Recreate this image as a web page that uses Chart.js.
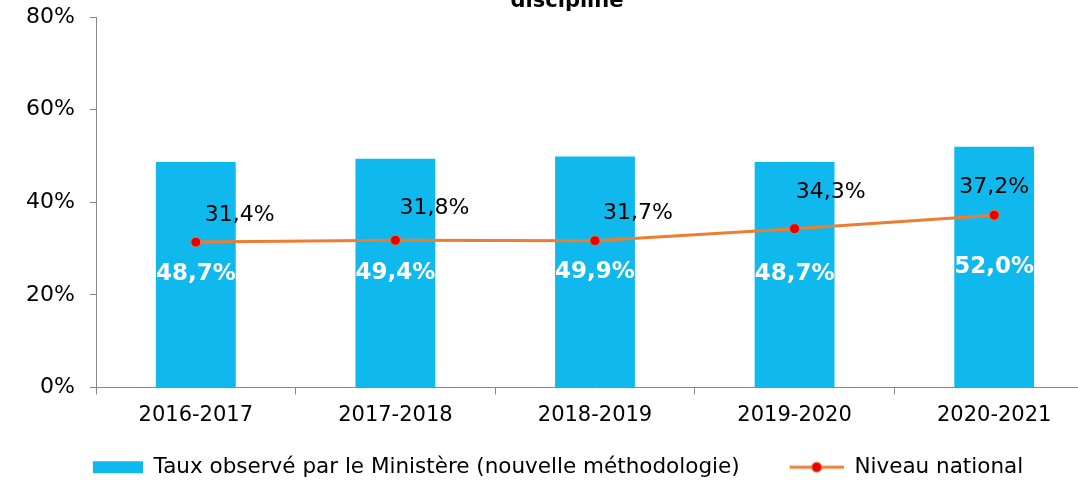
<!DOCTYPE html>
<html>
<head>
<meta charset="utf-8">
<script src="https://cdn.jsdelivr.net/npm/chart.js@4/dist/chart.umd.min.js"></script>
<style>
    html, body { margin: 0; padding: 0; background: #fff; overflow: hidden; }
    #wrap { width: 1100px; height: 480px; }
</style>
</head>
<body>
<div id="wrap"><canvas id="chart1"></canvas></div>
<script>
const categories = ['2016-2017', '2017-2018', '2018-2019', '2019-2020', '2020-2021'];
const ministereValues = [48.7, 49.4, 49.9, 48.7, 52.0];
const nationalValues = [31.4, 31.8, 31.7, 34.3, 37.2];
const yTicks = [0, 20, 40, 60, 80];
const seriesNames = ['Taux observé par le Ministère (nouvelle méthodologie)', 'Niveau national'];
const titleText = 'discipline';

// decalage des etiquettes de la courbe (px)
const lineLabelDx = [44, 39, 43, 36, 0];
const lineLabelDy = [-27, -32, -27, -36, -28];

const barColor = '#0FB9EE';
const lineColor = '#ED7D31';
const dotColor = '#E60000';
const FONT = 'DejaVu Sans';

function fmt(v) {
    return v.toFixed(1).replace('.', ',') + '%';
}

// petites images pour la legende (70px de large, marque a droite)
function makeBarIcon() {
    const c = document.createElement('canvas');
    c.width = 70; c.height = 14;
    const g = c.getContext('2d');
    g.fillStyle = barColor;
    g.fillRect(20, 1, 52, 12);
    return c;
}
function makeLineIcon() {
    const c = document.createElement('canvas');
    c.width = 70; c.height = 14;
    const g = c.getContext('2d');
    g.strokeStyle = lineColor;
    g.lineWidth = 3;
    g.beginPath(); g.moveTo(16, 7); g.lineTo(70, 7); g.stroke();
    g.beginPath(); g.arc(43, 7, 5, 0, Math.PI * 2);
    g.fillStyle = dotColor; g.fill();
    g.lineWidth = 1; g.strokeStyle = lineColor; g.stroke();
    return c;
}
const barIcon = makeBarIcon();
const lineIcon = makeLineIcon();

const labelsPlugin = {
    id: 'valueLabels',
    afterDatasetsDraw(chart) {
        const ctx = chart.ctx;
        ctx.save();
        ctx.textAlign = 'center';
        ctx.textBaseline = 'middle';

        const barMeta = chart.getDatasetMeta(0);
        ctx.font = 'bold 23px "' + FONT + '"';
        ctx.fillStyle = '#ffffff';
        barMeta.data.forEach((el, i) => {
            ctx.fillText(fmt(ministereValues[i]), el.x, (el.y + el.base) / 2);
        });

        const lineMeta = chart.getDatasetMeta(1);
        ctx.font = '22px "' + FONT + '"';
        ctx.fillStyle = '#000000';
        lineMeta.data.forEach((el, i) => {
            ctx.fillText(fmt(nationalValues[i]), el.x + lineLabelDx[i], el.y + lineLabelDy[i]);
        });

        // titre coupe en haut
        ctx.font = 'bold 21px "' + FONT + '"';
        ctx.textBaseline = 'alphabetic';
        ctx.fillText(titleText, 567, 7);
        ctx.restore();
    }
};

const data = {
    labels: categories,
    datasets: [{
        type: 'bar',
        label: seriesNames[0],
        data: ministereValues,
        backgroundColor: barColor,
        barPercentage: 0.4,
        categoryPercentage: 1,
        order: 2
    }, {
        type: 'line',
        label: seriesNames[1],
        data: nationalValues,
        borderColor: lineColor,
        borderWidth: 3,
        pointRadius: 5,
        pointStyle: 'circle',
        pointBackgroundColor: dotColor,
        pointBorderColor: lineColor,
        pointBorderWidth: 1,
        order: 1
    }]
};

const options = {
    responsive: true,
    maintainAspectRatio: false,
    animation: false,
    layout: { padding: { top: 17, right: 4, left: 0, bottom: -8 } },
    plugins: {
        tooltip: { enabled: false },
        legend: {
            position: 'bottom',
            labels: {
                usePointStyle: true,
                pointStyleWidth: 70,
                boxHeight: 14,
                padding: 34,
                color: '#000',
                font: { family: FONT, size: 21.5 },
                sort: (a, b) => a.datasetIndex - b.datasetIndex,
                generateLabels(chart) {
                    return chart.data.datasets.map((ds, i) => ({
                        text: ds.label,
                        pointStyle: i === 0 ? barIcon : lineIcon,
                        fillStyle: 'transparent',
                        strokeStyle: 'transparent',
                        lineWidth: 0,
                        datasetIndex: i,
                        hidden: false
                    }));
                }
            }
        }
    },
    scales: {
        x: {
            offset: true,
            grid: {
                offset: true,
                drawOnChartArea: false,
                drawTicks: true,
                tickLength: 7,
                color: '#888'
            },
            border: { color: '#888', width: 1 },
            ticks: {
                color: '#000',
                padding: 8,
                font: { family: FONT, size: 21 },
                maxRotation: 0
            },
            afterFit(scale) { scale.height = 35; }
        },
        y: {
            min: 0,
            max: 80,
            afterBuildTicks(scale) {
                scale.ticks = yTicks.map(v => ({ value: v }));
            },
            grid: {
                drawOnChartArea: false,
                drawTicks: true,
                tickLength: 6,
                color: '#888'
            },
            border: { color: '#888', width: 1 },
            ticks: {
                color: '#000',
                padding: 15,
                font: { family: FONT, size: 22 },
                callback: v => v + '%'
            },
            afterFit(scale) {
                scale.width = 96;
                scale.paddingTop = 0;
                scale.paddingBottom = 0;
            }
        }
    }
};

const ctx = document.getElementById('chart1').getContext('2d');
const chart = new Chart(ctx, {
    type: 'bar',
    data: data,
    options: options,
    plugins: [labelsPlugin]
});
</script>
</body>
</html>
